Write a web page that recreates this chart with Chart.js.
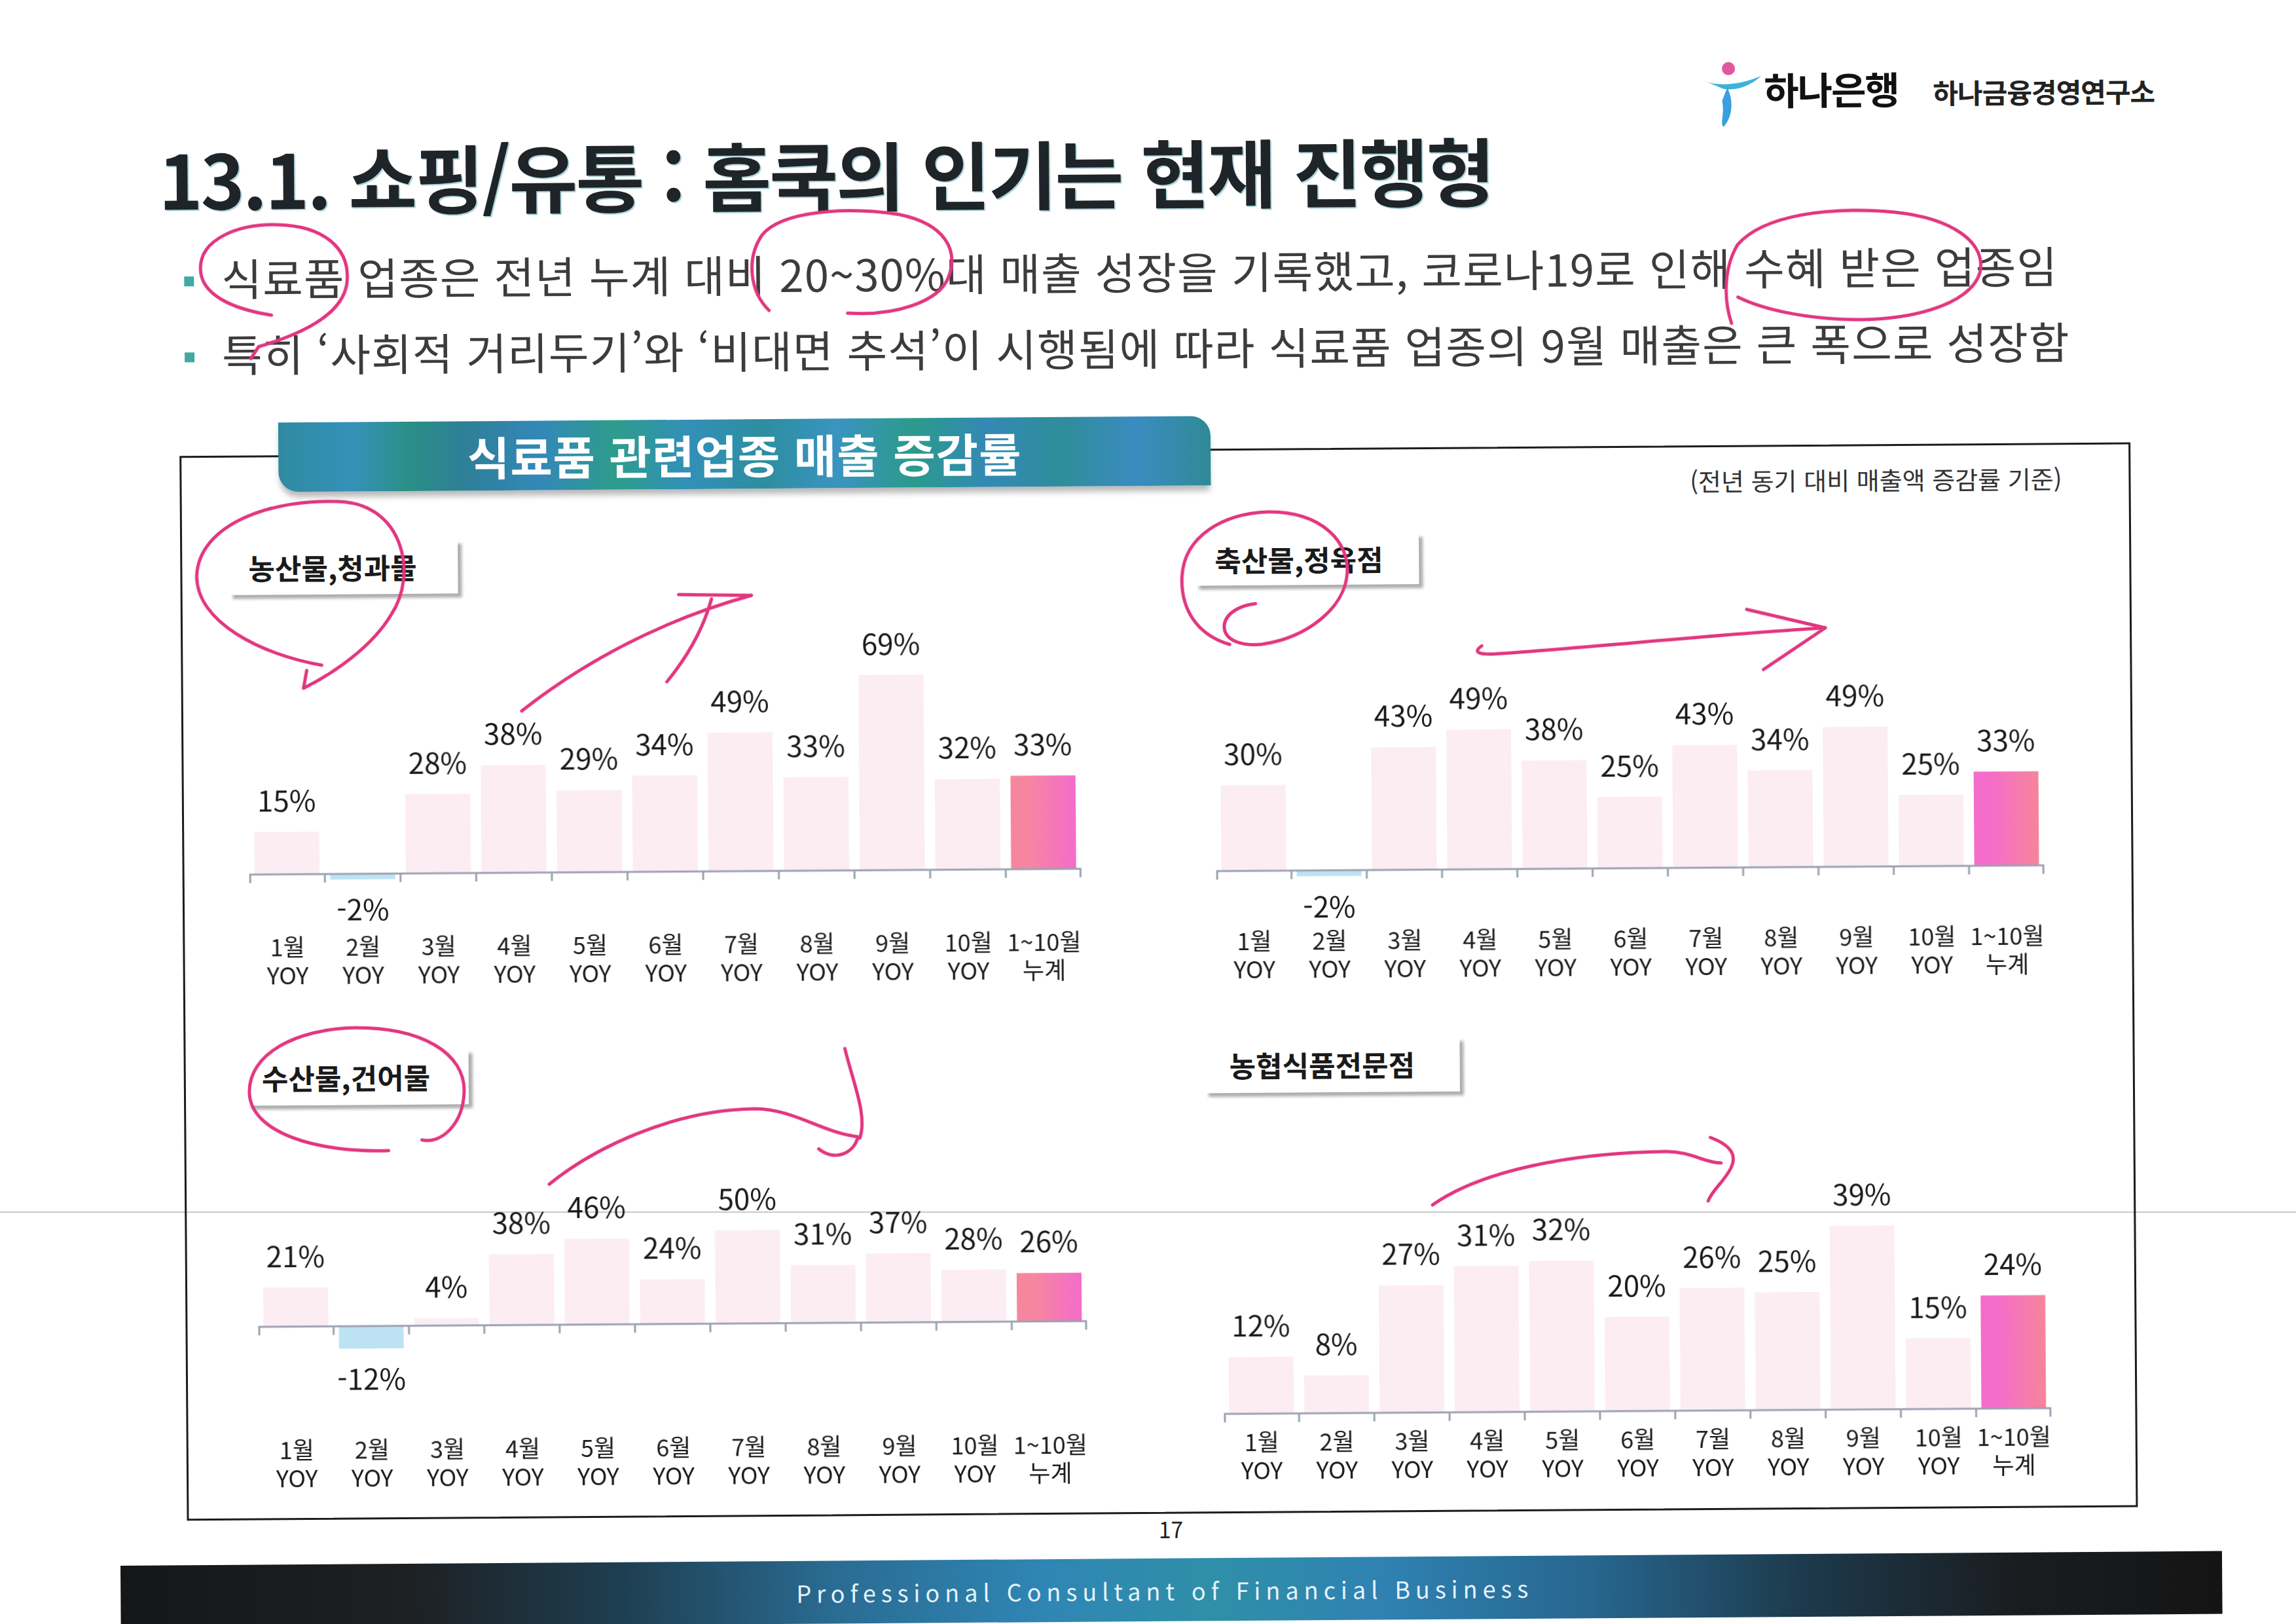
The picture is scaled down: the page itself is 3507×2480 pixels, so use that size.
<!DOCTYPE html>
<html lang="ko">
<head>
<meta charset="utf-8">
<script src="https://cdn.jsdelivr.net/npm/chart.js@4.4.1/dist/chart.umd.min.js"></script>
<style>
  html,body{margin:0;padding:0;background:#fff;}
  body{width:3507px;height:2480px;overflow:hidden;font-family:"Noto Sans CJK KR","Noto Sans",sans-serif;position:relative;}
  #page{position:absolute;left:0;top:0;width:3507px;height:2480px;transform:rotate(-0.4deg);transform-origin:1753px 1240px;}
  .abs{position:absolute;}
  #title{left:249px;top:178px;font-size:114px;font-weight:700;color:#1e2427;letter-spacing:-3px;white-space:nowrap;text-shadow:2px 2px 0 rgba(70,160,180,0.45);}
  .bullet{left:344px;font-size:67px;color:#3c3c3c;white-space:nowrap;letter-spacing:1.1px;}
  .sq{width:15px;height:15px;background:#3fa9a2;}
  #panel{left:278px;top:686px;width:2980px;height:1626px;border:3px solid #1c1c1c;box-sizing:border-box;}
  #band{left:429px;top:636px;width:1424px;height:106px;border-radius:0 30px 0 30px;
    background:linear-gradient(90deg,#2f8aa0 0%,#3591b8 8%,#2a8f86 14%,#2e7f97 20%,#3388b8 28%,#2d9c8c 36%,#3290b8 44%,#2c8ea0 52%,#3a94c0 60%,#2b9a8c 68%,#3389b5 76%,#2e8d99 84%,#3a8cc0 92%,#2f8a96 100%);
    box-shadow:0 10px 10px -2px rgba(0,0,0,0.28);color:#fff;font-size:70px;font-weight:700;text-align:center;line-height:106px;letter-spacing:1px;}
  #note{right:354px;top:712px;font-size:38px;color:#333;white-space:nowrap;}
  .lbl{background:#fff;font-size:44px;font-weight:700;color:#1a1a1a;white-space:nowrap;box-shadow:7px 7px 4px -1px rgba(0,0,0,0.32);box-sizing:border-box;padding-left:32px;}
  .cw{position:absolute;}
  #scanline{left:0;top:1850px;width:3507px;height:2px;background:#c9c9c9;}
  #pg{left:1762px;top:2310px;font-size:34px;color:#222;}
  #footer{left:176px;top:2380px;width:3210px;height:96px;
    background:linear-gradient(90deg,#151617 0%,#1d2124 14%,#1e3f52 24%,#2a6c93 34%,#2f86b4 44%,#2f8fa8 52%,#2f82b2 60%,#27668f 70%,#1d3a4c 80%,#1a1d20 90%,#141414 100%);
    color:#e6f2fb;font-size:36px;letter-spacing:8px;text-align:center;line-height:96px;}
  #footer span{position:relative;left:-10px;}
  #logoTxt1{left:2702px;top:100px;font-size:58px;font-weight:700;color:#111;letter-spacing:-2px;}
  #logoTxt2{left:2960px;top:118px;font-size:42px;font-weight:700;color:#222;letter-spacing:-1px;}
  svg.ov{position:absolute;left:0;top:0;width:3507px;height:2480px;pointer-events:none;}
</style>
</head>
<body>
<div id="scanline" class="abs"></div>
<div id="page">
  <!-- logo -->
  <svg class="ov" viewBox="0 0 3507 2480">
    <circle cx="2648" cy="111" r="10" fill="#e0569f"/>
    <path d="M2608 128 C2630 140,2670 135,2698 122 C2680 140,2655 145,2640 142" fill="#3fb2d8"/>
    <path d="M2646 140 C2656 160,2654 185,2640 200 C2634 196,2642 180,2638 160 Z" fill="#3a9fe0"/>
  </svg>
  <div id="logoTxt1" class="abs">하나은행</div>
  <div id="logoTxt2" class="abs">하나금융경영연구소</div>

  <div id="title" class="abs">13.1. 쇼핑/유통 : 홈쿡의 인기는 현재 진행형</div>

  <div class="abs sq" style="left:287px;top:412px"></div>
  <div class="abs bullet" style="top:364px">식료품 업종은 전년 누계 대비 20~30%대 매출 성장을 기록했고, 코로나19로 인해 수혜 받은 업종임</div>
  <div class="abs sq" style="left:287px;top:528px"></div>
  <div class="abs bullet" style="top:480px">특히 ‘사회적 거리두기’와 ‘비대면 추석’이 시행됨에 따라 식료품 업종의 9월 매출은 큰 폭으로 성장함</div>

  <div id="panel" class="abs"></div>
  <div id="band" class="abs"><span>식료품 관련업종 매출 증감률</span></div>
  <div id="note" class="abs">(전년 동기 대비 매출액 증감률 기준)</div>

  <div class="abs lbl" style="left:350px;top:815px;width:352px;height:84px;line-height:84px;">농산물,청과물</div>
  <div class="abs lbl" style="left:1826px;top:815px;width:344px;height:80px;line-height:80px;">축산물,정육점</div>
  <div class="abs lbl" style="left:373px;top:1593px;width:340px;height:86px;line-height:86px;padding-left:24px;">수산물,건어물</div>
  <div class="abs lbl" style="left:1835px;top:1585px;width:392px;height:85px;line-height:85px;padding-left:40px;">농협식품전문점</div>

  <div class="cw" style="left:380px;top:950px;width:1276px;height:558px;"><canvas id="c1"></canvas></div>
  <div class="cw" style="left:1857px;top:961px;width:1270px;height:548px;"><canvas id="c2"></canvas></div>
  <div class="cw" style="left:389px;top:1750px;width:1271px;height:526px;"><canvas id="c3"></canvas></div>
  <div class="cw" style="left:1863px;top:1762px;width:1269px;height:512px;"><canvas id="c4"></canvas></div>

  <div id="pg" class="abs">17</div>
  <div id="footer" class="abs"><span>Professional Consultant of Financial Business</span></div>

  <!-- pen annotations -->
  <svg class="ov" viewBox="0 0 3507 2480" fill="none" stroke="#e2367f" stroke-width="5" stroke-linecap="round" stroke-linejoin="round">
    <path d="M420 472 C360 462,312 440,312 400 C312 355,370 332,430 334 C500 336,540 370,536 420 C532 470,470 500,400 520 L388 538"/>
    <path d="M1180 470 C1150 440,1146 390,1170 355 C1200 318,1300 312,1380 325 C1450 340,1470 380,1455 420 C1440 460,1370 480,1300 475"/>
    <path d="M2650 500 C2640 470,2636 420,2660 380 C2700 335,2800 322,2900 332 C2990 342,3040 380,3030 425 C3015 475,2920 500,2820 495 C2760 492,2700 480,2660 460"/>
    <path d="M493 1007 C400 990,303 940,303 870 C306 790,420 750,530 758 C620 768,640 870,600 930 C570 980,510 1020,465 1042 L470 1015"/>
    <path d="M798 1079 C900 1000,1020 940,1150 905"/>
    <path d="M1039 903 L1150 905"/>
    <path d="M1089 910 C1075 960,1050 1000,1020 1036"/>
    <path d="M1880 985 C1830 970,1805 930,1808 880 C1812 820,1870 785,1940 783 C2020 782,2066 830,2060 880 C2055 930,2000 975,1930 985 C1900 988,1870 980,1872 955 C1875 935,1900 925,1920 923"/>
    <path d="M2265 990 C2250 1000,2262 1004,2290 1002 C2450 992,2620 975,2790 966"/>
    <path d="M2670 937 L2790 966 L2695 1029"/>
    <path d="M590 1749 C480 1752,380 1720,378 1660 C376 1600,450 1562,540 1561 C640 1561,708 1600,706 1660 C704 1710,670 1740,641 1733"/>
    <path d="M835 1802 C900 1750,1020 1690,1150 1689 C1210 1690,1250 1725,1307 1733 C1300 1760,1270 1770,1247 1751"/>
    <path d="M1288 1598 C1300 1650,1322 1700,1310 1735"/>
    <path d="M2184 1843 C2260 1790,2400 1765,2540 1764 C2580 1764,2600 1782,2625 1782"/>
    <path d="M2609 1743 C2640 1755,2650 1770,2640 1790 C2630 1810,2610 1825,2605 1840"/>
  </svg>
</div>

<script>
// ---------- data ----------
const months = ['1월','2월','3월','4월','5월','6월','7월','8월','9월','10월','1~10월'];
const subLabels = ['YOY','YOY','YOY','YOY','YOY','YOY','YOY','YOY','YOY','YOY','누계'];
const agriValues      = [15, -2, 28, 38, 29, 34, 49, 33, 69, 32, 33]; // 농산물,청과물
const livestockValues = [30, -2, 43, 49, 38, 25, 43, 34, 49, 25, 33]; // 축산물,정육점
const seafoodValues   = [21, -12, 4, 38, 46, 24, 50, 31, 37, 28, 26]; // 수산물,건어물
const nhFoodValues    = [12, 8, 27, 31, 32, 20, 26, 25, 39, 15, 24];  // 농협식품전문점

// ---------- styling ----------
const FAINT = '#fbedf1';
const NEG = '#bde3f3';
const FONT = '"Noto Sans CJK KR","Noto Sans",sans-serif';
Chart.defaults.font.family = FONT;

const barLabels = {
  id: 'barLabels',
  afterDatasetsDraw(chart) {
    const {ctx, scales: {x, y}} = chart;
    const meta = chart.getDatasetMeta(0);
    const data = chart.data.datasets[0].data;
    const n = data.length;
    ctx.save();
    // zero axis line with category boundary ticks
    const z = y.getPixelForValue(0);
    ctx.strokeStyle = '#9da2b2';
    ctx.lineWidth = 3;
    ctx.beginPath();
    ctx.moveTo(x.left, z); ctx.lineTo(x.right, z);
    for (let i = 0; i <= n; i++) {
      let bx;
      if (i === 0) bx = x.left + 1.5;
      else if (i === n) bx = x.right - 1.5;
      else bx = (x.getPixelForValue(i - 1) + x.getPixelForValue(i)) / 2;
      ctx.moveTo(bx, z); ctx.lineTo(bx, z + 13);
    }
    ctx.stroke();
    // value labels
    ctx.fillStyle = '#1a1a1a';
    ctx.font = '44px ' + FONT;
    ctx.textAlign = 'center';
    ctx.textBaseline = 'middle';
    meta.data.forEach((el, i) => {
      const v = data[i];
      const ty = v >= 0 ? el.y - 48 : el.y + 46;
      ctx.fillText(v + '%', el.x, ty);
    });
    ctx.restore();
  }
};

function makeChart(id, values, yMin, yMax, cumFrom, cumTo) {
  const labels = months.map((m, i) => [m, subLabels[i]]);
  return new Chart(document.getElementById(id), {
    type: 'bar',
    data: {
      labels,
      datasets: [{
        data: values,
        categoryPercentage: 0.86,
        barPercentage: 1.0,
        borderWidth: 0,
        backgroundColor: (c) => {
          const i = c.dataIndex;
          const n = values.length;
          if (i === n - 1) {
            const xs = c.chart.scales && c.chart.scales.x;
            if (!xs || !c.chart.chartArea) return cumFrom;
            const cx = xs.getPixelForValue(i);
            const hw = xs.width / n * 0.86 / 2;
            const g = c.chart.ctx.createLinearGradient(cx - hw, 0, cx + hw, 0);
            g.addColorStop(0, cumFrom);
            g.addColorStop(0.25, cumFrom);
            g.addColorStop(1, cumTo);
            return g;
          }
          return values[i] < 0 ? NEG : FAINT;
        }
      }]
    },
    options: {
      responsive: true,
      maintainAspectRatio: false,
      animation: false,
      devicePixelRatio: 1,
      layout: {padding: 0},
      plugins: {legend: {display: false}, tooltip: {enabled: false}},
      scales: {
        x: {
          grid: {display: false},
          border: {display: false},
          ticks: {
            color: '#1c1c1c',
            font: {size: 36, family: FONT, lineHeight: 1.2},
            padding: 6,
            maxRotation: 0,
            autoSkip: false
          }
        },
        y: {display: false, min: yMin, max: yMax}
      }
    },
    plugins: [barLabels]
  });
}

makeChart('c1', agriValues, -17.5, 87.0, '#f6869e', '#f46cca');
makeChart('c2', livestockValues, -16.4, 84.9, '#f46cca', '#f6849a');
makeChart('c3', seafoodValues, -53.6, 93.6, '#f6869e', '#f46cca');
makeChart('c4', nhFoodValues, -1.07, 55.3, '#f46cca', '#f6849a');
</script>
</body>
</html>
